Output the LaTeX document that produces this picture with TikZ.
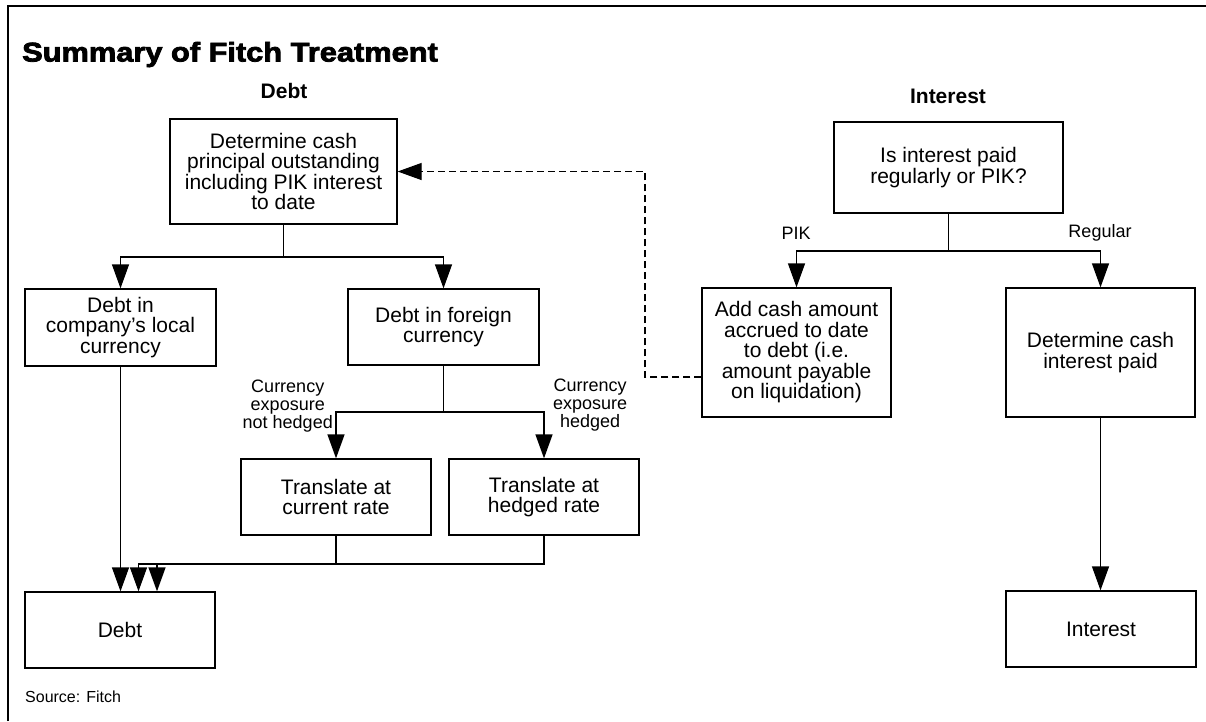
\documentclass[tikz,border=0pt]{standalone}
\usepackage{fontspec}
\setmainfont{Liberation Sans}
\newfontfamily\titlefont[BoldFeatures={FakeBold=3,FakeStretch=1.14}]{Liberation Sans}
\usetikzlibrary{arrows.meta}
\begin{document}
\begin{tikzpicture}[x=1pt,y=-1pt,
  box/.style={draw, line width=1.3pt, align=center, inner sep=0pt, font=\fontsize{21}{20.5}\selectfont},
  lbl/.style={align=center, inner sep=0pt, font=\fontsize{18}{18}\selectfont},
  conn/.style={line width=1.3pt},
  arr/.style={line width=1.3pt, -{Triangle[length=24pt,width=17pt]}},
  dashconn/.style={arr, dash pattern=on 7pt off 4pt},
  hdr/.style={font=\bfseries\fontsize{21}{21}\selectfont, inner sep=0pt}]
\useasboundingbox (0,0) rectangle (1206,721);
\draw[line width=1.5pt] (8,721) -- (8,6) -- (1206,6);

\node[anchor=base west, inner sep=0pt, font=\titlefont\bfseries\fontsize{27}{27}\selectfont] (title) at (22,61.5) {Summary of Fitch Treatment};
\node[hdr, anchor=base] (hdebt) at (284,98) {Debt};
\node[hdr, anchor=base] (hint) at (948,103) {Interest};

\node[box, minimum width=227pt, minimum height=105pt] (top) at (283.5,171.5) {Determine cash\\principal outstanding\\including PIK interest\\to date};
\node[box, minimum width=191pt, minimum height=77pt] (local) at (120.5,327.5) {Debt in\\company's local\\currency};
\node[box, minimum width=191pt, minimum height=76pt] (foreign) at (443.5,327) {Debt in foreign\\currency};
\node[box, minimum width=190pt, minimum height=76pt] (tcur) at (336,497) {Translate at\\current rate};
\node[box, minimum width=190pt, minimum height=76pt] (thed) at (544,497) {Translate at\\hedged rate};
\node[box, minimum width=190pt, minimum height=76pt] (debt) at (120,630) {Debt};
\node[box, minimum width=229pt, minimum height=91pt] (itop) at (948.5,167.5) {Is interest paid\\regularly or PIK?};
\node[box, minimum width=189pt, minimum height=129pt] (pik) at (796.5,352.5) {Add cash amount\\accrued to date\\to debt (i.e.\\amount payable\\on liquidation)};
\node[box, minimum width=189pt, minimum height=129pt] (reg) at (1100.5,352.5) {Determine cash\\interest paid};
\node[box, minimum width=190pt, minimum height=76pt] (intr) at (1101,629) {Interest};

\node[lbl, anchor=east] (lnh) at (333,406) {Currency\\exposure\\not hedged};
\node[lbl, anchor=west] (lh) at (553,405) {Currency\\exposure\\hedged};
\node[lbl] (lpik) at (796,233) {PIK};
\node[lbl] (lreg) at (1100,233) {Regular};
\node[anchor=west, inner sep=0pt, font=\fontsize{16}{16}\selectfont] (src) at (25,697) {Source: Fitch};

\coordinate (j1) at (283.5,257);
\draw[conn] (top.south) -- (j1);
\draw[arr] (j1) -| (local.north);
\draw[arr] (j1) -| (foreign.north);
\coordinate (j2) at (443.5,412);
\draw[conn] (foreign.south) -- (j2);
\draw[arr] (j2) -| (tcur.north);
\draw[arr] (j2) -| (thed.north);
\draw[arr] (local.south) -- (local.south |- debt.north);
\coordinate (d2) at ([xshift=18.5pt]debt.north);
\coordinate (d3) at ([xshift=37pt]debt.north);
\coordinate (m) at (0,564);
\draw[arr] (tcur.south) -- (tcur.south |- m) -- (m -| d3) -- (d3);
\draw[arr] (thed.south) -- (thed.south |- m) -- (m -| d2) -- (d2);

\coordinate (j3) at (948.5,251);
\draw[conn] (itop.south) -- (j3);
\draw[arr] (j3) -| (pik.north);
\draw[arr] (j3) -| (reg.north);
\draw[arr] (reg.south) -- (reg.south |- intr.north);

\coordinate (ds) at (pik.west |- 0,377);
\coordinate (dc) at (645,377);
\draw[dashconn] (ds) -- (dc) |- (top.east);
\end{tikzpicture}
\end{document}
